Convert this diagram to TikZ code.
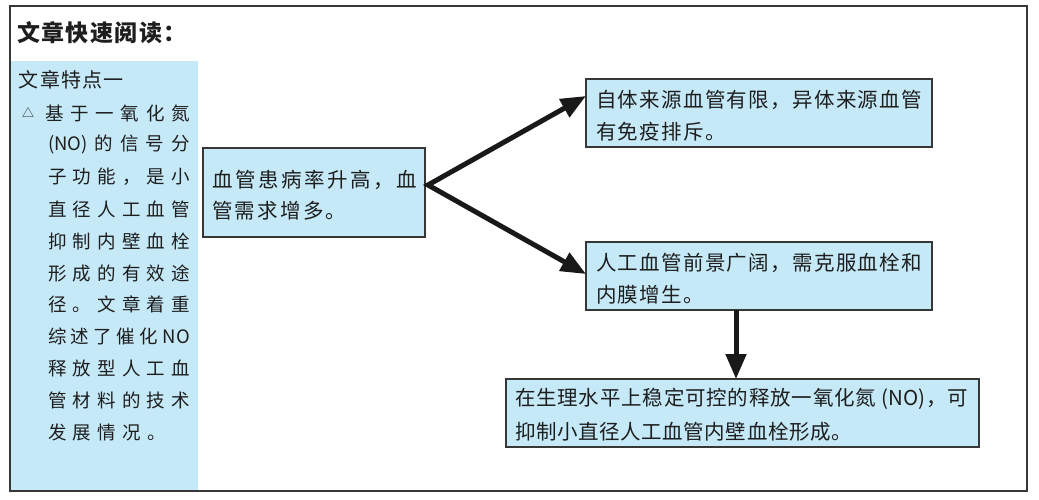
\documentclass[tikz,border=0pt]{standalone}
\usepackage{fontspec}
\newfontfamily\hei{Noto Sans CJK SC}
\usetikzlibrary{arrows.meta,calc}
\definecolor{boxblue}{RGB}{198,233,248}
\definecolor{framec}{RGB}{55,55,55}
\definecolor{inkc}{RGB}{30,30,30}
\definecolor{arrowc}{RGB}{25,25,25}
\newcommand\trksep{}
\def\trk#1{\ifx\relax#1\else#1\trksep\expandafter\trk\fi}
\newcommand\jline[2]{\makebox[#1][l]{\def\trksep{\hfill}\trk#2\relax\unskip}}
\newcommand\gline[2]{\def\trksep{\hspace{#1}}\trk#2\relax\unskip}
\begin{document}
\begin{tikzpicture}[x=1pt,y=-1pt,
  bx/.style={draw=framec, line width=1.2pt, fill=boxblue, inner sep=0pt, outer sep=0pt},
  txt/.style={anchor=west, inner sep=0pt, outer sep=0pt, text=inkc, font=\hei\fontsize{20.5}{24}\selectfont},
  side/.style={txt, font=\hei\fontsize{18.5}{22}\selectfont},
  tipa/.tip={Triangle[length=25pt,width=20pt]},
  arr/.style={draw=arrowc, line width=5pt, -tipa}
]
\useasboundingbox (0,0) rectangle (1039,500);
% left panel and frame
\fill[boxblue] (10.6,61) rectangle (198,490.4);
\draw[framec, line width=1.2pt] (10,6) rectangle (1027,491);
% title
\node[txt, font=\hei\bfseries\fontsize{23}{26}\selectfont] (title) at (17,33) {\gline{1.5pt}{文章快速阅读：}};
% side text
\node[txt, font=\hei\fontsize{20}{24}\selectfont] (feat) at (19,80) {\gline{1.2pt}{文章特点一}};
\node[side, font=\hei\fontsize{12}{14}\selectfont] (tri) at (22,113) {△};
\node[side] (s1) at (45,113) {\jline{145pt}{基于一氧化氮}};
\node[side] (s2) at (48,145) {\jline{142pt}{{(NO)}的信号分}};
\node[side] (s3) at (48,177) {\jline{142pt}{子功能，是小}};
\node[side] (s4) at (48,209) {\jline{142pt}{直径人工血管}};
\node[side] (s5) at (48,241) {\jline{142pt}{抑制内壁血栓}};
\node[side] (s6) at (48,273) {\jline{142pt}{形成的有效途}};
\node[side] (s7) at (48,304) {\jline{142pt}{径。文章着重}};
\node[side] (s8) at (48,336) {\jline{142pt}{综述了催化{NO}}};
\node[side] (s9) at (48,368) {\jline{142pt}{释放型人工血}};
\node[side] (s10) at (48,400) {\jline{142pt}{管材料的技术}};
\node[side] (s11) at (48,432) {\gline{6.3pt}{发展情况。}};
% boxes
\node[bx, minimum width=222pt, minimum height=89pt] (b1) at (314,192.5) {};
\node[txt] (b1a) at (212,180) {\jline{205pt}{血管患病率升高，血}};
\node[txt] (b1b) at (212,211) {\gline{2.3pt}{管需求增多。}};
\node[bx, minimum width=346pt, minimum height=68pt] (b2) at (759,113) {};
\node[txt] (b2a) at (596,100) {\jline{326pt}{自体来源血管有限，异体来源血管}};
\node[txt] (b2b) at (596,132) {\gline{1.3pt}{有免疫排斥。}};
\node[bx, minimum width=346pt, minimum height=68pt] (b3) at (759,276) {};
\node[txt] (b3a) at (596,263) {\jline{326pt}{人工血管前景广阔，需克服血栓和}};
\node[txt] (b3b) at (596,295) {\gline{1.3pt}{内膜增生。}};
\node[bx, minimum width=473pt, minimum height=68pt] (b4) at (742.5,413) {};
\node[txt] (b4a) at (515,399) {\jline{453pt}{在生理水平上稳定可控的释放一氧化氮{\ (NO)}，可}};
\node[txt] (b4b) at (515,432) {\gline{0.6pt}{抑制小直径人工血管内壁血栓形成。}};
% connectors
\coordinate (fork) at ($(b1.east)+(3,-7.5)$);
\coordinate (t2) at ($(b2.west)+(0,-17)$);
\coordinate (t3) at ($(b3.west)+(0,-2)$);
\draw[arr, tipa-tipa, line join=miter] (t2) -- (fork) -- (t3);
\draw[arr] ($(b3.south)+(-23,0)$) -- ($(b4.north)+(-6.5,0)$);
\end{tikzpicture}
\end{document}
